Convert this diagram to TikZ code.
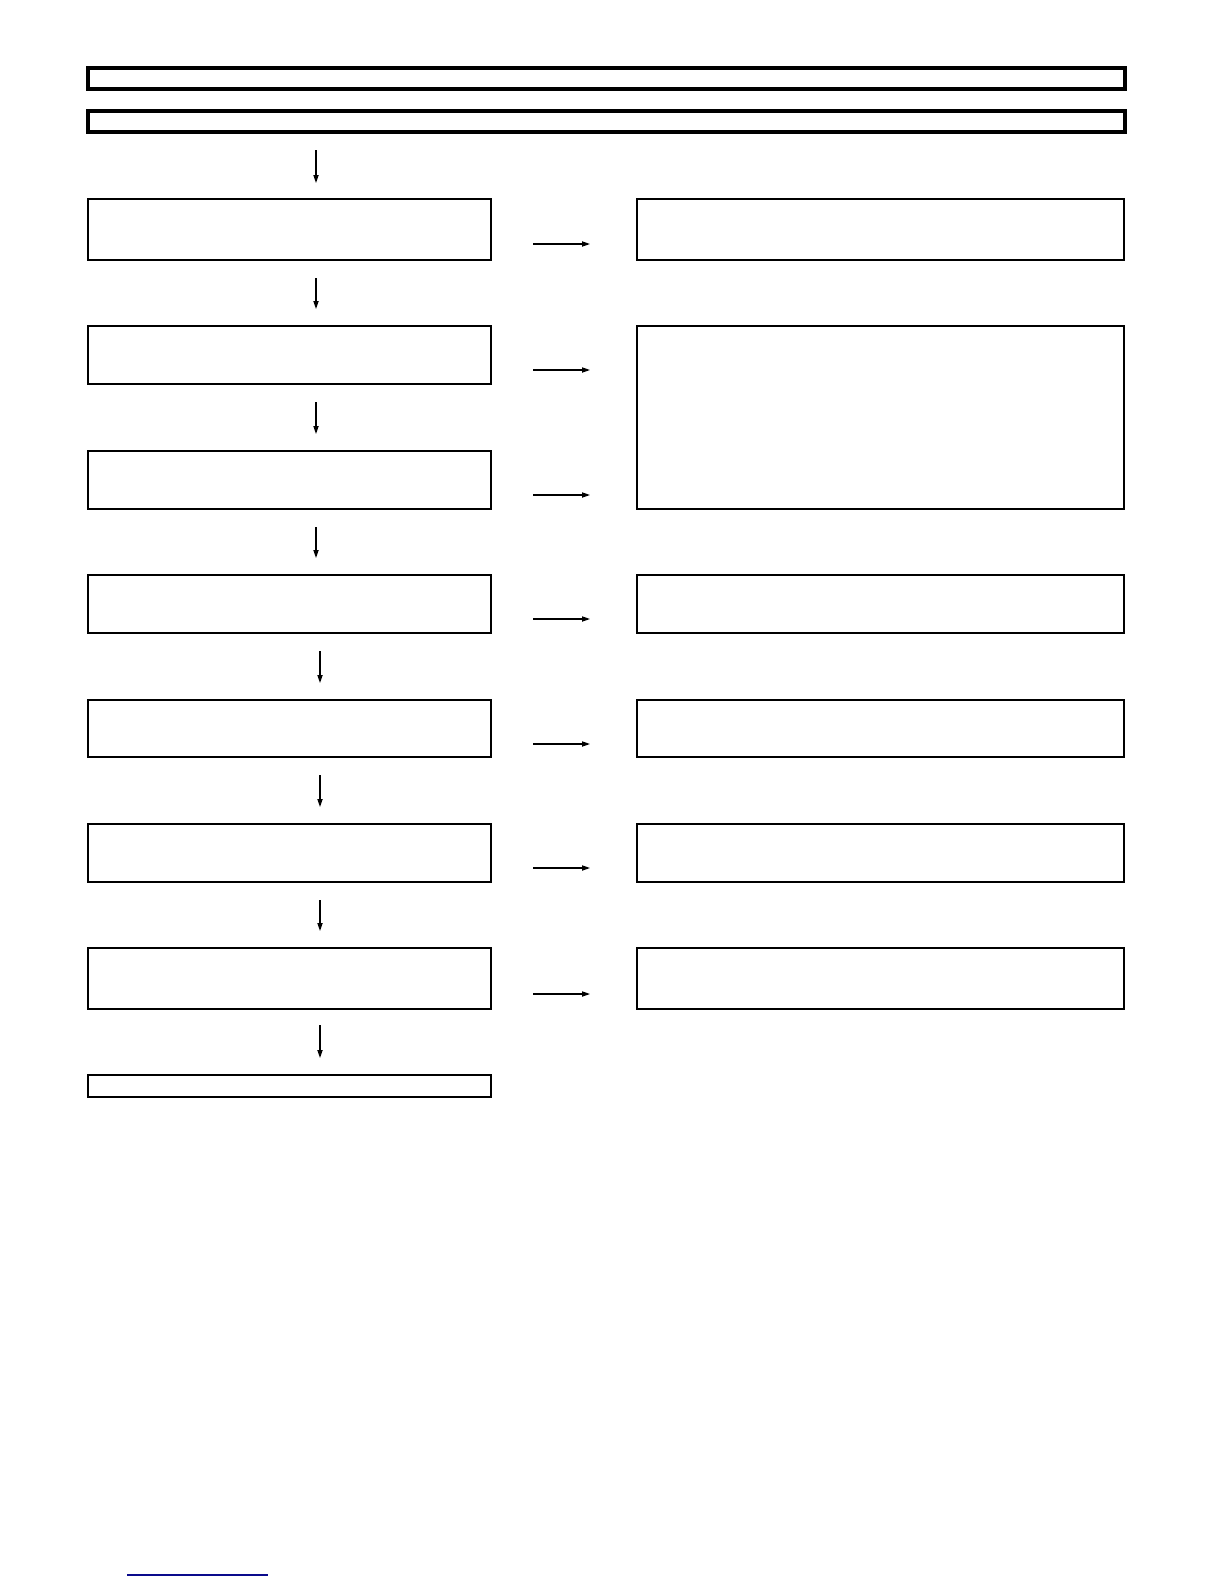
\documentclass[tikz,border=0pt]{standalone}
\usetikzlibrary{arrows.meta}
\begin{document}
\begin{tikzpicture}[x=0.5pt,y=-0.5pt,
  thickbox/.style={draw,line width=2pt,minimum width=518.5pt,minimum height=10.5pt,inner sep=0pt,outer sep=0pt},
  lbox/.style={draw,line width=0.7pt,minimum width=201.5pt,inner sep=0pt,outer sep=0pt},
  rbox/.style={draw,line width=0.7pt,minimum width=243.5pt,inner sep=0pt,outer sep=0pt},
  arr/.style={line width=0.55pt,-{Triangle[length=4pt,width=2.6pt]}}]
\useasboundingbox (0,0) rectangle (1224,1584);
% header bars
\node[thickbox] (h1) at (606.5,78.5) {};
\node[thickbox] (h2) at (606.5,121.5) {};
% left column
\node[lbox,minimum height=30.5pt] (l1) at (289.5,229.5) {};
\node[lbox,minimum height=29pt] (l2) at (289.5,355) {};
\node[lbox,minimum height=29pt] (l3) at (289.5,480) {};
\node[lbox,minimum height=29pt] (l4) at (289.5,604) {};
\node[lbox,minimum height=28.5pt] (l5) at (289.5,728.5) {};
\node[lbox,minimum height=29pt] (l6) at (289.5,853) {};
\node[lbox,minimum height=30.5pt] (l7) at (289.5,978.5) {};
\node[lbox,minimum height=11pt] (l8) at (289.5,1086) {};
% right column
\node[rbox,minimum height=30.5pt] (r1) at (880.5,229.5) {};
\node[rbox,minimum height=91.5pt] (r2) at (880.5,417.5) {};
\node[rbox,minimum height=29pt] (r4) at (880.5,604) {};
\node[rbox,minimum height=28.5pt] (r5) at (880.5,728.5) {};
\node[rbox,minimum height=29pt] (r6) at (880.5,853) {};
\node[rbox,minimum height=30.5pt] (r7) at (880.5,978.5) {};
% vertical arrows
\coordinate (v0a) at (316,150); \coordinate (v0b) at (316,183);
\coordinate (v1a) at (316,278); \coordinate (v1b) at (316,309);
\coordinate (v2a) at (316,402); \coordinate (v2b) at (316,434);
\coordinate (v3a) at (316,527); \coordinate (v3b) at (316,558);
\coordinate (v4a) at (320,651); \coordinate (v4b) at (320,683);
\coordinate (v5a) at (320,775); \coordinate (v5b) at (320,807);
\coordinate (v6a) at (320,900); \coordinate (v6b) at (320,931);
\coordinate (v7a) at (320,1025); \coordinate (v7b) at (320,1058);
\foreach \i in {0,...,7} {\draw[arr] (v\i a) -- (v\i b);}
% horizontal arrows
\foreach \n/\y in {1/244,2/370,3/495,4/619,5/744,6/868,7/994} {
  \coordinate (ha\n) at (533,\y); \coordinate (hb\n) at (590,\y);
  \draw[arr] (ha\n) -- (hb\n);}
% bottom blue line
\coordinate (ba) at (127,1575); \coordinate (bb) at (268,1575);
\draw[line width=0.8pt,color={rgb,255:red,10;green,10;blue,140}] (ba) -- (bb);
\end{tikzpicture}
\end{document}
